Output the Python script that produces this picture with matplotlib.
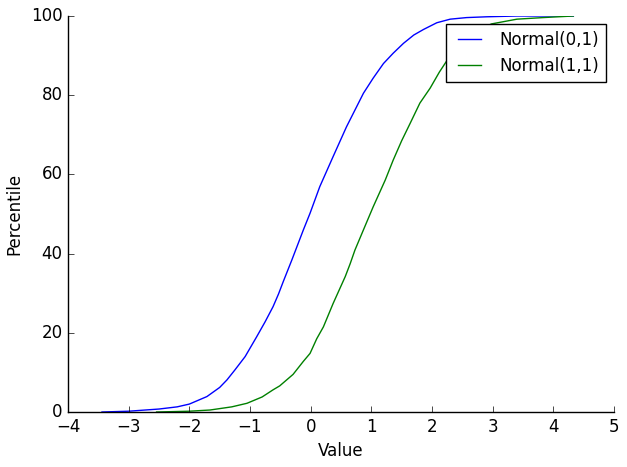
import matplotlib; matplotlib.use("Agg")
import matplotlib.pyplot as plt

# percentile curves (value, percentile)
blue_x=[-3.44,-3.0,-2.5,-2.2,-2.0,-1.71,-1.5,-1.38,-1.25,-1.08,-0.89,-0.75,-0.62,-0.53,-0.45,-0.31,-0.12,-0.01,0.15,0.37,0.59,0.87,1.03,1.20,1.36,1.53,1.70,1.86,2.08,2.30,2.57,2.90,3.40,4.33]
blue_y=[0,0.2,0.75,1.3,2.0,3.9,6.2,8.1,10.6,14,19,22.8,26.6,29.8,33.0,38.4,46,50.2,56.9,64.5,72,80.5,84.3,88,90.6,93.1,95.2,96.6,98.3,99.2,99.6,99.8,100,100]
green_x=[-2.54,-2.0,-1.66,-1.3,-1.05,-0.8,-0.62,-0.51,-0.29,-0.12,-0.01,0.10,0.21,0.37,0.57,0.65,0.73,0.87,1.03,1.23,1.36,1.50,1.64,1.80,1.97,2.12,2.27,2.5,2.75,2.98,3.40,3.83,4.33]
green_y=[0,0.2,0.5,1.3,2.2,3.8,5.6,6.6,9.5,12.8,14.8,18.5,21.5,27.4,34.2,37.4,40.9,46,51.8,58.6,63.6,68.5,72.9,78,81.8,85.8,89.3,93.3,96.3,98,99.2,99.6,100]
labels=["Normal(0,1)","Normal(1,1)"]
xticks=list(range(-4,6)); yticks=list(range(0,101,20))

plt.style.use("classic")
plt.rcParams.update({"figure.facecolor":"white","savefig.facecolor":"white","font.family":"DejaVu Sans"})

fig=plt.figure(figsize=(6.27,4.67),dpi=100)
ax=fig.add_axes([68/627,1-412/467,(614-68)/627,(412-16)/467])
ax.plot(blue_x,blue_y,color="b",lw=1,label=labels[0])
ax.plot(green_x,green_y,color="g",lw=1,label=labels[1])
ax.set_xlim(-4,5); ax.set_ylim(0,100)
ax.set_xticks(xticks); ax.set_yticks(yticks)
ax.spines["top"].set_visible(False); ax.spines["right"].set_visible(False)
ax.xaxis.set_ticks_position("bottom"); ax.yaxis.set_ticks_position("left")
ax.set_xlabel("Value"); ax.set_ylabel("Percentile")
ax.legend(loc="upper right",fontsize=12)
fig.savefig("out.png",dpi=100)
